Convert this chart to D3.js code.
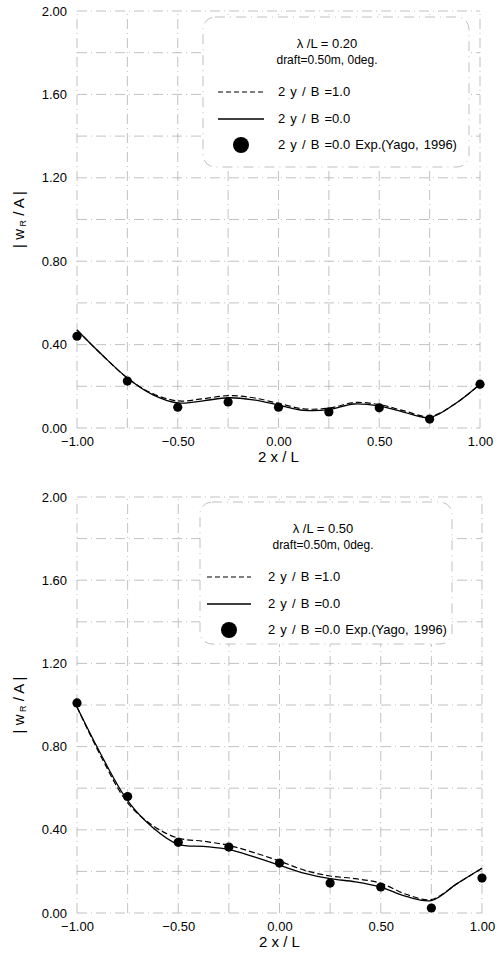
<!DOCTYPE html>
<html>
<head>
<meta charset="utf-8">
<script src="https://cdn.jsdelivr.net/npm/d3@7/dist/d3.min.js"></script>
<style>
  html, body { margin: 0; padding: 0; background: #fff; }
  svg { display: block; font-family: "Liberation Sans", Arial, sans-serif; }
</style>
</head>
<body>
<svg id="fig" width="496" height="958"></svg>
<script>
// Station positions along the hull, 2x/L
const curveX = [-1, -0.875, -0.75, -0.625, -0.5, -0.375, -0.25, -0.125, 0, 0.125, 0.25, 0.375, 0.5, 0.625, 0.75, 0.875, 1];
const expX = [-1, -0.75, -0.5, -0.25, 0, 0.25, 0.5, 0.75, 1];

// lambda/L = 0.20
const topEdge = [0.47, 0.35, 0.24, 0.165, 0.13, 0.14, 0.155, 0.145, 0.118, 0.092, 0.095, 0.122, 0.112, 0.082, 0.055, 0.115, 0.21];
const topCenter = [0.47, 0.35, 0.24, 0.16, 0.12, 0.13, 0.145, 0.135, 0.11, 0.085, 0.088, 0.115, 0.105, 0.075, 0.05, 0.115, 0.21];
const topExp = [0.44, 0.225, 0.10, 0.125, 0.10, 0.077, 0.097, 0.043, 0.21];

// lambda/L = 0.50
const botEdge = [0.99, 0.74, 0.53, 0.42, 0.36, 0.345, 0.325, 0.29, 0.25, 0.205, 0.178, 0.165, 0.143, 0.09, 0.065, 0.14, 0.215];
const botCenter = [0.99, 0.75, 0.54, 0.41, 0.33, 0.32, 0.305, 0.27, 0.23, 0.19, 0.165, 0.15, 0.125, 0.08, 0.06, 0.14, 0.215];
const botExp = [1.01, 0.56, 0.34, 0.317, 0.24, 0.144, 0.125, 0.024, 0.168];

const xTickVals = [-1, -0.5, 0, 0.5, 1];
const yTickVals = [0, 0.4, 0.8, 1.2, 1.6, 2.0];
const xGridVals = [-1, -0.75, -0.5, -0.25, 0, 0.25, 0.5, 0.75, 1];
const yGridVals = [0, 0.2, 0.4, 0.6, 0.8, 1.0, 1.2, 1.4, 1.6, 1.8, 2.0];

const legendLabels = ["2 y / B =1.0", "2 y / B =0.0", "2 y / B =0.0 Exp.(Yago, 1996)"];

const svg = d3.select("#fig");

function drawPanel(cfg) {
  const x = d3.scaleLinear().domain([-1, 1]).range([cfg.x0, cfg.x1]);
  const y = d3.scaleLinear().domain([0, 2]).range([cfg.y0, cfg.y1]);
  const g = svg.append("g");

  // grid
  const grid = g.append("g").attr("stroke", "#a8a8a8").attr("stroke-width", 0.7)
    .attr("stroke-dasharray", "10,4,1,4").attr("fill", "none");
  grid.selectAll("line.v").data(xGridVals).join("line")
    .attr("x1", d => x(d)).attr("x2", d => x(d))
    .attr("y1", y(0)).attr("y2", y(2));
  grid.selectAll("line.h").data(yGridVals).join("line")
    .attr("x1", x(-1)).attr("x2", x(1))
    .attr("y1", d => y(d)).attr("y2", d => y(d));

  // y tick labels
  const yAxis = d3.axisLeft(y).tickValues(yTickVals).tickFormat(d3.format(".2f")).tickSize(0).tickPadding(10);
  const ya = g.append("g").attr("transform", `translate(${cfg.x0},0)`).call(yAxis);
  ya.select(".domain").remove();
  ya.selectAll("text").attr("font-size", 13).attr("fill", "#000")
    .attr("font-family", "Liberation Sans, Arial, sans-serif");

  // x tick labels
  const xAxis = d3.axisBottom(x).tickValues(xTickVals).tickFormat(d3.format(".2f")).tickSize(0).tickPadding(9);
  const xa = g.append("g").attr("transform", `translate(0,${cfg.y0})`).call(xAxis);
  xa.select(".domain").remove();
  xa.selectAll("text").attr("font-size", 13).attr("fill", "#000")
    .attr("font-family", "Liberation Sans, Arial, sans-serif");

  // axis titles
  g.append("text").attr("x", (cfg.x0 + cfg.x1) / 2).attr("y", cfg.y0 + 34)
    .attr("text-anchor", "middle").attr("font-size", 15).text("2 x / L");
  const yt = g.append("text")
    .attr("transform", `translate(24,${(cfg.y0 + cfg.y1) / 2}) rotate(-90)`)
    .attr("text-anchor", "middle").attr("font-size", 15);
  yt.append("tspan").text("| w");
  yt.append("tspan").attr("font-size", 9).attr("dy", 2).text(" R");
  yt.append("tspan").attr("dy", -2).text(" / A |");

  // curves
  const line = d3.line().x(d => x(d[0])).y(d => y(d[1])).curve(d3.curveCatmullRom.alpha(0.5));
  g.append("path").datum(d3.zip(curveX, cfg.edge)).attr("d", line)
    .attr("fill", "none").attr("stroke", "#000").attr("stroke-width", 1.2).attr("stroke-dasharray", "6,3");
  g.append("path").datum(d3.zip(curveX, cfg.center)).attr("d", line)
    .attr("fill", "none").attr("stroke", "#000").attr("stroke-width", 1.3);

  // experiments
  g.selectAll("circle.exp").data(d3.zip(expX, cfg.exp)).join("circle")
    .attr("cx", d => x(d[0])).attr("cy", d => y(d[1])).attr("r", 4.6).attr("fill", "#000");

  // legend
  const L = cfg.legend;
  const lg = g.append("g");
  lg.append("rect").attr("x", L.x).attr("y", L.y).attr("width", L.w).attr("height", L.h)
    .attr("rx", 12).attr("ry", 12).attr("fill", "#fff")
    .attr("stroke", "#b0b0b0").attr("stroke-width", 0.8).attr("stroke-dasharray", "10,5,1,5");
  lg.append("text").attr("x", L.cx).attr("y", L.y + 31).attr("text-anchor", "middle")
    .attr("font-size", 13).text(cfg.title);
  lg.append("text").attr("x", L.cx).attr("y", L.y + 47).attr("text-anchor", "middle")
    .attr("font-size", 12).text("draft=0.50m, 0deg.");
  const rowY = [L.y + 75, L.y + 102, L.y + 128];
  lg.append("line").attr("x1", L.lx0).attr("x2", L.lx1).attr("y1", rowY[0]).attr("y2", rowY[0])
    .attr("stroke", "#000").attr("stroke-width", 1.2).attr("stroke-dasharray", "5,3");
  lg.append("line").attr("x1", L.lx0).attr("x2", L.lx1).attr("y1", rowY[1]).attr("y2", rowY[1])
    .attr("stroke", "#000").attr("stroke-width", 1.3);
  lg.append("circle").attr("cx", (L.lx0 + L.lx1) / 2).attr("cy", rowY[2]).attr("r", 8).attr("fill", "#000");
  lg.selectAll("text.lab").data(legendLabels).join("text")
    .attr("x", L.tx).attr("y", (d, i) => rowY[i] + 4).attr("font-size", 13)
    .attr("word-spacing", 1.5).text(d => d);
}

drawPanel({
  x0: 77, x1: 480, y0: 428, y1: 11,
  edge: topEdge, center: topCenter, exp: topExp,
  title: "\u03bb /L = 0.20",
  legend: { x: 203, y: 17, w: 266, h: 150, cx: 327, lx0: 218, lx1: 264, tx: 278 }
});

drawPanel({
  x0: 77, x1: 482, y0: 913, y1: 497,
  edge: botEdge, center: botCenter, exp: botExp,
  title: "\u03bb /L = 0.50",
  legend: { x: 200, y: 502, w: 252, h: 142, cx: 323, lx0: 207, lx1: 251, tx: 268 }
});
</script>
</body>
</html>
